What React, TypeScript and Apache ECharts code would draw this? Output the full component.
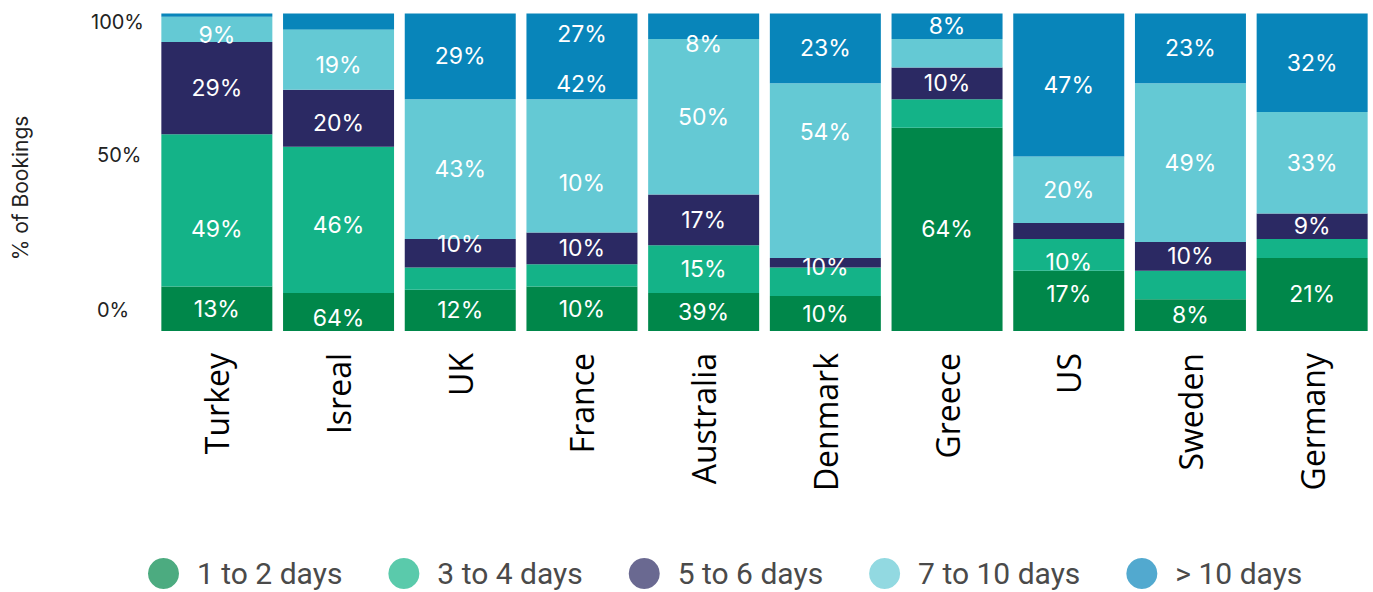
import React, { useEffect, useRef } from "react";
import * as echarts from "echarts";

const categories = ["Turkey", "Isreal", "UK", "France", "Australia", "Denmark", "Greece", "US", "Sweden", "Germany"];
const seriesNames = ["1 to 2 days", "3 to 4 days", "5 to 6 days", "7 to 10 days", "> 10 days"];

const oneToTwo = [14, 12, 13, 14, 12, 11, 64, 19, 10, 23];
const threeToFour = [48, 46, 7, 7, 15, 9, 9, 10, 9, 6];
const fiveToSix = [29, 18, 9, 10, 16, 3, 10, 5, 9, 8];
const sevenToTen = [8, 19, 44, 42, 49, 55, 9, 21, 50, 32];
const overTen = [1, 5, 27, 27, 8, 22, 8, 45, 22, 31];

const oneToTwoLabels = ["13%", "64%", "12%", "10%", "39%", "10%", "64%", "17%", "8%", "21%"];
const threeToFourLabels = ["49%", "46%", "", "", "15%", "", "", "10%", "", ""];
const fiveToSixLabels = ["29%", "20%", "10%", "10%", "17%", "10%", "10%", "", "10%", "9%"];
const sevenToTenLabels = ["9%", "19%", "43%", "10%", "50%", "54%", "", "20%", "49%", "33%"];
const overTenLabels = ["", "", "29%", "27%\n42%", "8%", "23%", "8%", "47%", "23%", "32%"];

const yTicks = [0, 50, 100];

// vertical label nudges (px), styling only: key "seriesIndex-categoryIndex"
const labelNudge: Record<string, number> = {
  "1-0": 19, "3-0": 6,
  "0-1": 6, "1-1": 5, "2-1": 5, "3-1": 5,
  "2-2": -9,
  "3-3": 17, "4-3": 3,
  "4-4": 18,
  "2-5": 4, "3-5": -39,
  "0-7": -7, "1-7": 7,
};

const colors = ["#00874A", "#14B388", "#2B2963", "#64C9D4", "#0885BA"];

export default function App() {
  const ref = useRef<HTMLDivElement>(null);
  useEffect(() => {
    if (!ref.current) return;
    const chart = echarts.init(ref.current, undefined, { renderer: "svg" });
    const values = [oneToTwo, threeToFour, fiveToSix, sevenToTen, overTen];
    const labels = [oneToTwoLabels, threeToFourLabels, fiveToSixLabels, sevenToTenLabels, overTenLabels];
    const series = seriesNames.map((name, si) => ({
      name,
      type: "bar",
      stack: "total",
      barWidth: 111,
      itemStyle: { color: colors[si] },
      data: values[si].map((v, ci) => {
        const lbl = labels[si][ci];
        return {
          value: v,
          label: {
            show: lbl !== "",
            formatter: lbl,
            offset: [0, labelNudge[`${si}-${ci}`] || 0],
          },
        };
      }),
      label: {
        position: "inside",
        color: "#ffffff",
        fontFamily: "Inter",
        fontSize: 23,
        lineHeight: 50,
      },
    }));
    chart.setOption({
      animation: false,
      grid: { left: 156, width: 1219, top: 13.5, bottom: 261, containLabel: false },
      legend: {
        left: 143,
        top: 553,
        icon: "circle",
        itemWidth: 33,
        itemHeight: 31,
        itemGap: 46,
        itemStyle: { opacity: 0.7 },
        textStyle: { fontFamily: "Roboto", fontSize: 30, color: "#4a4a4a", padding: [0, 0, 0, 12] },
        data: seriesNames,
      },
      xAxis: {
        type: "category",
        data: categories,
        axisLine: { show: false },
        axisTick: { show: false },
        axisLabel: { rotate: 90, margin: 22, fontFamily: "Open Sans", fontSize: 32, color: "#000" },
      },
      yAxis: {
        type: "value",
        min: yTicks[0],
        max: yTicks[yTicks.length - 1],
        interval: 50,
        splitLine: { show: false },
        axisLine: { show: false },
        axisTick: { show: false },
        axisLabel: {
          align: "left",
          margin: 65,
          formatter: (v: number) => (v === 100 ? "{a|100%}" : v === 50 ? "{b|50%}" : "{c|0%}"),
          rich: {
            a: { fontFamily: "Inter", fontSize: 20, color: "#222", padding: [16, 0, 0, 0] },
            b: { fontFamily: "Inter", fontSize: 20, color: "#222", padding: [0, 0, 34, 6] },
            c: { fontFamily: "Inter", fontSize: 20, color: "#222", padding: [0, 0, 42, 6] },
          },
        },
      },
      graphic: [
        {
          type: "text",
          x: 20,
          y: 188,
          rotation: Math.PI / 2,
          style: {
            text: "% of Bookings",
            fontFamily: "Inter",
            fontSize: 21,
            fill: "#222",
            align: "center",
            verticalAlign: "middle",
          },
        },
      ],
      series,
    });
    return () => chart.dispose();
  }, []);
  return <div ref={ref} style={{ position: "absolute", left: 0, top: 0, width: 1373, height: 592 }} />;
}
